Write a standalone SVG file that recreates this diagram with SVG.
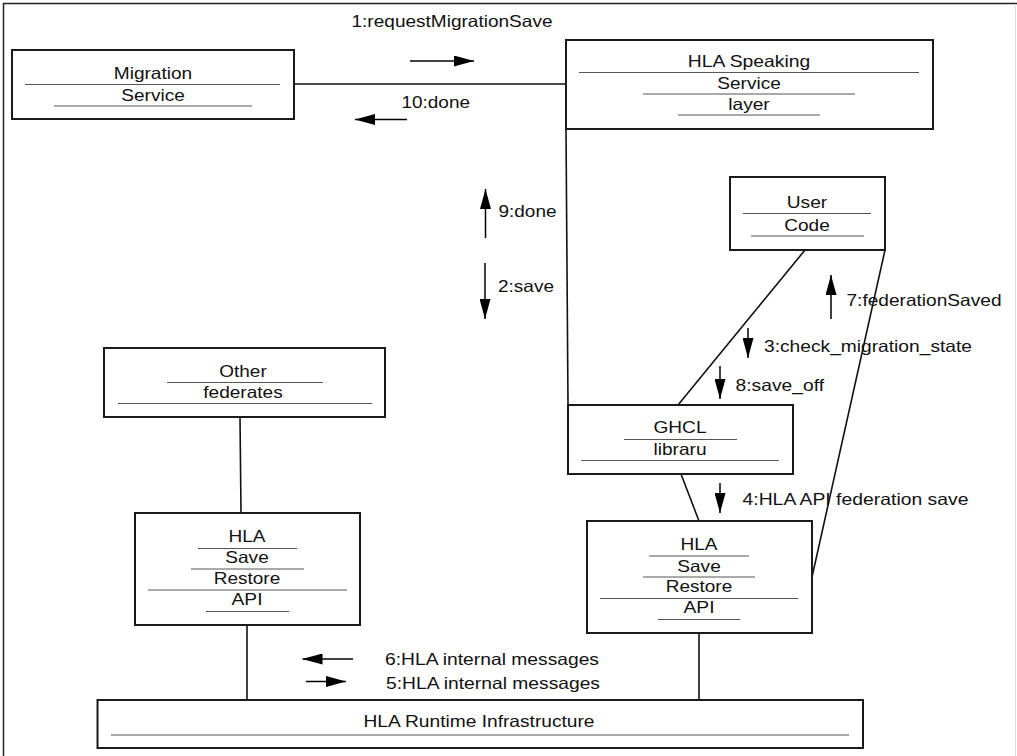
<svg xmlns="http://www.w3.org/2000/svg" width="1017" height="756" viewBox="0 0 1017 756">
  <style>
    .box { fill: #fff; stroke: #1a1a1a; stroke-width: 2; }
    .sep { stroke: #555; stroke-width: 1; fill: none; }
    .conn { stroke: #111; stroke-width: 1.6; fill: none; }
    .msg { stroke: #000; stroke-width: 1.5; fill: none; marker-end: url(#head); }
    text { font-family: "Liberation Sans", Arial, Helvetica, sans-serif; font-size: 16.5px; fill: #111; }
    .c { text-anchor: middle; }
  </style>
  <defs>
    <marker id="head" markerUnits="userSpaceOnUse" markerWidth="20" markerHeight="11" refX="20" refY="5.5" orient="auto">
      <path d="M0,0 L20,5.5 L0,11 Z" fill="#000"/>
    </marker>
  </defs>

  <rect width="1017" height="756" fill="#fff"/>
  <!-- page frame -->
  <path d="M3.5,756 V3.5 H1017" fill="none" stroke="#222" stroke-width="1.5"/>
  <line x1="1015.5" y1="4" x2="1015.5" y2="756" stroke="#ddd" stroke-width="1"/>

  <!-- links between objects -->
  <g id="connectors">
    <line class="conn" x1="294" y1="84" x2="566" y2="84"/>
    <line class="conn" x1="566" y1="129" x2="568" y2="405"/>
    <line class="conn" x1="805" y1="250" x2="678" y2="405"/>
    <line class="conn" x1="885" y1="250" x2="812" y2="577"/>
    <line class="conn" x1="681" y1="474" x2="699" y2="521"/>
    <line class="conn" x1="240" y1="417" x2="241" y2="513"/>
    <line class="conn" x1="247" y1="625" x2="247" y2="700"/>
    <line class="conn" x1="699" y1="633" x2="699" y2="700"/>
  </g>

  <!-- numbered messages -->
  <g id="messages">
    <line class="msg" x1="410" y1="61" x2="474" y2="61"/>
    <text x="351.5" y="26.5" textLength="201" lengthAdjust="spacingAndGlyphs">1:requestMigrationSave</text>
    <line class="msg" x1="407" y1="119.5" x2="355" y2="119.5"/>
    <text x="401.5" y="108" textLength="68.5" lengthAdjust="spacingAndGlyphs">10:done</text>

    <line class="msg" x1="485.5" y1="238" x2="485.5" y2="189"/>
    <text x="498.5" y="217" textLength="58" lengthAdjust="spacingAndGlyphs">9:done</text>
    <line class="msg" x1="485" y1="263" x2="485" y2="319"/>
    <text x="498" y="292" textLength="56" lengthAdjust="spacingAndGlyphs">2:save</text>

    <line class="msg" x1="831" y1="319" x2="831" y2="275"/>
    <text x="846.5" y="306" textLength="155" lengthAdjust="spacingAndGlyphs">7:federationSaved</text>

    <line class="msg" x1="748" y1="328" x2="748" y2="358"/>
    <text x="764" y="351.5" textLength="208" lengthAdjust="spacingAndGlyphs">3:check_migration_state</text>
    <line class="msg" x1="720" y1="366" x2="720" y2="399"/>
    <text x="735.5" y="391" textLength="88.5" lengthAdjust="spacingAndGlyphs">8:save_off</text>

    <line class="msg" x1="720" y1="483" x2="720" y2="513"/>
    <text x="742.5" y="505" textLength="226" lengthAdjust="spacingAndGlyphs">4:HLA API federation save</text>

    <line class="msg" x1="353" y1="659" x2="302.5" y2="659"/>
    <text x="385" y="665" textLength="214" lengthAdjust="spacingAndGlyphs">6:HLA internal messages</text>
    <line class="msg" x1="306" y1="681.5" x2="346" y2="681.5"/>
    <text x="386" y="689" textLength="214" lengthAdjust="spacingAndGlyphs">5:HLA internal messages</text>
  </g>

  <g id="migration-service">
    <rect class="box" x="12" y="50" width="282" height="69"/>
    <text class="c" x="153" y="78.5" textLength="78.5" lengthAdjust="spacingAndGlyphs">Migration</text>
    <line class="sep" x1="25" y1="84.5" x2="280" y2="84.5"/>
    <text class="c" x="153" y="100.5" textLength="63.5" lengthAdjust="spacingAndGlyphs">Service</text>
    <line class="sep" x1="54" y1="106" x2="252" y2="106"/>
  </g>

  <g id="hla-speaking-service-layer">
    <rect class="box" x="566" y="40" width="367" height="89"/>
    <text class="c" x="749" y="67" textLength="122.5" lengthAdjust="spacingAndGlyphs">HLA Speaking</text>
    <line class="sep" x1="579" y1="72.5" x2="919" y2="72.5"/>
    <text class="c" x="749" y="89" textLength="63.5" lengthAdjust="spacingAndGlyphs">Service</text>
    <line class="sep" x1="643" y1="94" x2="855" y2="94"/>
    <text class="c" x="749" y="110" textLength="41.5" lengthAdjust="spacingAndGlyphs">layer</text>
    <line class="sep" x1="678" y1="115" x2="820" y2="115"/>
  </g>

  <g id="user-code">
    <rect class="box" x="730" y="177" width="155" height="73"/>
    <text class="c" x="807" y="208" textLength="40.5" lengthAdjust="spacingAndGlyphs">User</text>
    <line class="sep" x1="743" y1="213.5" x2="871" y2="213.5"/>
    <text class="c" x="807" y="231" textLength="45.5" lengthAdjust="spacingAndGlyphs">Code</text>
    <line class="sep" x1="751" y1="236" x2="864" y2="236"/>
  </g>

  <g id="other-federates">
    <rect class="box" x="104" y="348" width="281" height="69"/>
    <text class="c" x="243" y="377" textLength="47.5" lengthAdjust="spacingAndGlyphs">Other</text>
    <line class="sep" x1="167" y1="382.5" x2="323" y2="382.5"/>
    <text class="c" x="243" y="398" textLength="79.5" lengthAdjust="spacingAndGlyphs">federates</text>
    <line class="sep" x1="118" y1="403.5" x2="372" y2="403.5"/>
  </g>

  <g id="ghcl-library">
    <rect class="box" x="568" y="405" width="225" height="69"/>
    <text class="c" x="680" y="433" textLength="53" lengthAdjust="spacingAndGlyphs">GHCL</text>
    <line class="sep" x1="624" y1="439.5" x2="737" y2="439.5"/>
    <text class="c" x="680" y="455" textLength="53" lengthAdjust="spacingAndGlyphs">libraru</text>
    <line class="sep" x1="581" y1="460.5" x2="779" y2="460.5"/>
  </g>

  <g id="hla-save-restore-api-left">
    <rect class="box" x="135" y="513" width="225" height="112"/>
    <text class="c" x="247" y="542" textLength="37" lengthAdjust="spacingAndGlyphs">HLA</text>
    <line class="sep" x1="198" y1="548.5" x2="297" y2="548.5"/>
    <text class="c" x="247" y="563" textLength="43.5" lengthAdjust="spacingAndGlyphs">Save</text>
    <line class="sep" x1="191" y1="569" x2="304" y2="569"/>
    <text class="c" x="247" y="584" textLength="66.5" lengthAdjust="spacingAndGlyphs">Restore</text>
    <line class="sep" x1="148" y1="590" x2="347" y2="590"/>
    <text class="c" x="247" y="605" textLength="31" lengthAdjust="spacingAndGlyphs">API</text>
    <line class="sep" x1="206" y1="611.5" x2="289" y2="611.5"/>
  </g>

  <g id="hla-save-restore-api-right">
    <rect class="box" x="587" y="521" width="225" height="112"/>
    <text class="c" x="699" y="550" textLength="37" lengthAdjust="spacingAndGlyphs">HLA</text>
    <line class="sep" x1="649" y1="556" x2="749" y2="556"/>
    <text class="c" x="699" y="571.5" textLength="43.5" lengthAdjust="spacingAndGlyphs">Save</text>
    <line class="sep" x1="643" y1="577" x2="755" y2="577"/>
    <text class="c" x="699" y="592" textLength="66.5" lengthAdjust="spacingAndGlyphs">Restore</text>
    <line class="sep" x1="600" y1="598.5" x2="798" y2="598.5"/>
    <text class="c" x="699" y="613" textLength="31" lengthAdjust="spacingAndGlyphs">API</text>
    <line class="sep" x1="658" y1="619.5" x2="740" y2="619.5"/>
  </g>

  <g id="hla-runtime-infrastructure">
    <rect class="box" x="97.5" y="700" width="765.5" height="48"/>
    <text class="c" x="479" y="727" textLength="231" lengthAdjust="spacingAndGlyphs">HLA Runtime Infrastructure</text>
    <line class="sep" x1="111" y1="735" x2="849" y2="735"/>
  </g>
</svg>
